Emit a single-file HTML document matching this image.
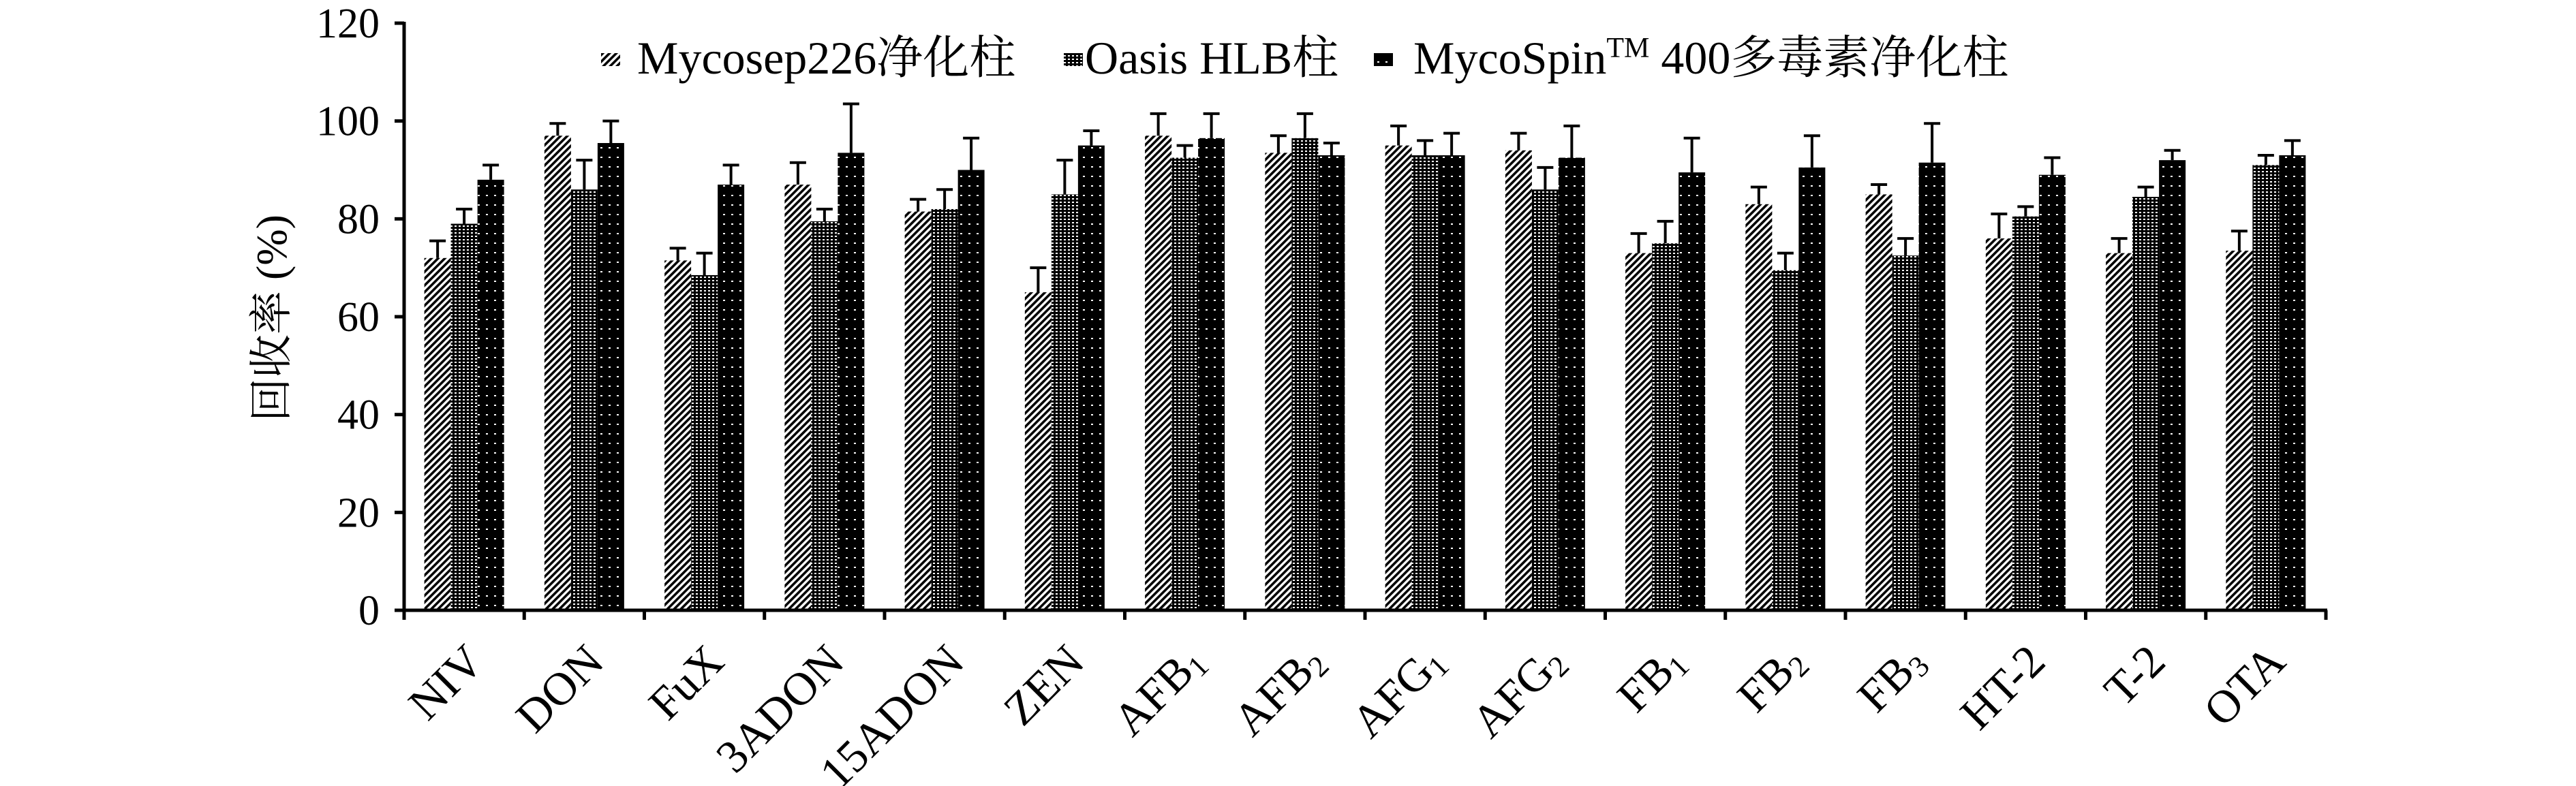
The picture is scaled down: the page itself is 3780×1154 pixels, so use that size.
<!DOCTYPE html>
<html><head><meta charset="utf-8">
<style>
html,body{margin:0;padding:0;background:#fff;}
svg{display:block;}
text{font-family:"Liberation Serif",serif;fill:#000;}
.lat{font-family:"Liberation Serif",serif;}
.cjk{font-family:"Noto Serif CJK SC","Noto Sans CJK SC",serif;}
</style></head>
<body>
<svg id="chart" width="3780" height="1154" viewBox="0 0 3780 1154" xmlns="http://www.w3.org/2000/svg">
<defs>
  <pattern id="pHatch" patternUnits="userSpaceOnUse" width="7" height="7" patternTransform="rotate(45)">
    <rect width="7" height="7" fill="#fff"/>
    <rect width="3.6" height="7" fill="#000"/>
  </pattern>
  <pattern id="pGrid" patternUnits="userSpaceOnUse" width="6" height="5">
    <rect width="6" height="5" fill="#000"/>
    <rect x="1" y="1" width="3" height="2" fill="#fff"/>
  </pattern>
  <pattern id="pDots" patternUnits="userSpaceOnUse" width="12" height="14">
    <rect width="12" height="14" fill="#000"/>
    <rect x="5" y="6" width="3" height="2" fill="#fff"/>
  </pattern>
</defs>
<g id="plot"></g>
<g id="legend">
  <rect x="882" y="78" width="28" height="19" fill="url(#pHatch)"/>
  <text x="935" y="108" font-size="68"><tspan class="lat">Mycosep226</tspan><tspan class="cjk">净化柱</tspan></text>
  <rect x="1561" y="78" width="28" height="19" fill="url(#pGrid)"/>
  <text x="1592" y="108" font-size="68"><tspan class="lat">Oasis HLB</tspan><tspan class="cjk">柱</tspan></text>
  <rect x="2016" y="78" width="28" height="19" fill="url(#pDots)"/>
  <text x="2074" y="108" font-size="68"><tspan class="lat">MycoSpin</tspan><tspan class="lat" font-size="42" dy="-24">TM</tspan><tspan class="lat" dy="24"> 400</tspan><tspan class="cjk">多毒素净化柱</tspan></text>
</g>
<text x="0" y="0" font-size="64" text-anchor="middle" transform="translate(420,467) rotate(-90)"><tspan class="cjk">回收率</tspan><tspan class="lat"> (%)</tspan></text>
</svg>
<script>
const categories = ["NIV","DON","FuX","3ADON","15ADON","ZEN","AFB|1","AFB|2","AFG|1","AFG|2","FB|1","FB|2","FB|3","HT-2","T-2","OTA"];
const seriesNames = ["Mycosep226","Oasis HLB","MycoSpin 400"];
const mycosepValues = [72,97,71.5,87,81.5,65,97,93.5,95,94,73,83,85,76,73,73.5];
const mycosepErrors = [3.5,2.5,2.5,4.5,2.5,5,4.5,3.5,4,3.5,4,3.5,2,5,3,4];
const oasisValues = [79,86,68.5,79.5,82,85,92.5,96.5,93,86,75,69.5,72.5,80.5,84.5,91];
const oasisErrors = [3,6,4.5,2.5,4,7,2.5,5,3,4.5,4.5,3.5,3.5,2,2,2];
const mycospinValues = [88,95.5,87,93.5,90,95,96.5,93,93,92.5,89.5,90.5,91.5,89,92,93];
const mycospinErrors = [3,4.5,4,10,6.5,3,5,2.5,4.5,6.5,7,6.5,8,3.5,2,3];
const yTicks = [0,20,40,60,80,100,120];

const NS = "http://www.w3.org/2000/svg";
const plot = document.getElementById("plot");
const X0 = 593, X1 = 3413, Y0 = 896, Y120 = 34;
const step = (X1 - X0) / categories.length;
const BW = 39;
function yScale(v){ return Y0 - (v / 120) * (Y0 - Y120); }
function xCenter(i){ return X0 + step * (i + 0.5); }
function mk(tag, attrs){ const e = document.createElementNS(NS, tag); for (const k in attrs) e.setAttribute(k, attrs[k]); return e; }

const series = [
  {vals: mycosepValues, errs: mycosepErrors, fill: "url(#pHatch)", key: "mycosep"},
  {vals: oasisValues, errs: oasisErrors, fill: "url(#pGrid)", key: "oasis"},
  {vals: mycospinValues, errs: mycospinErrors, fill: "url(#pDots)", key: "mycospin"}
];

categories.forEach((c, i) => {
  series.forEach((s, k) => {
    const x = xCenter(i) + (k - 1.5) * BW;
    const y = yScale(s.vals[i]);
    const r = mk("rect", {x: x, y: y, width: BW, height: Y0 - y, fill: s.fill});
    
    
    plot.appendChild(r);
    const cx = x + BW / 2, ye = yScale(s.vals[i] + s.errs[i]);
    const eb = mk("path", {d: `M${cx},${y} V${ye} M${cx-12},${ye} H${cx+12}`, stroke: "#000", "stroke-width": 4, fill: "none"});
    
    
    plot.appendChild(eb);
  });
  const parts = c.split("|");
  const t = mk("text", {x: 0, y: 0, "font-size": 68, "text-anchor": "end", transform: `translate(${xCenter(i)+32},${975}) rotate(-45)`});
  t.textContent = parts[0];
  if (parts[1]) {
    const sub = mk("tspan", {"font-size": 44, dy: 8});
    sub.textContent = parts[1];
    t.appendChild(sub);
  }
  
  
  plot.appendChild(t);
});

const yAxis = mk("line", {x1: X0, y1: Y120 - 2, x2: X0, y2: Y0 + 3, stroke: "#000", "stroke-width": 5});


plot.appendChild(yAxis);
const xAxis = mk("line", {x1: X0 - 14, y1: Y0, x2: X1 + 2, y2: Y0, stroke: "#000", "stroke-width": 5});


plot.appendChild(xAxis);
for (let i = 0; i <= categories.length; i++) {
  const x = X0 + step * i;
  const tk = mk("line", {x1: x, y1: Y0, x2: x, y2: Y0 + 14, stroke: "#000", "stroke-width": 5});
  
  
  plot.appendChild(tk);
}
yTicks.forEach(v => {
  const y = yScale(v);
  const tk = mk("line", {x1: X0 - 14, y1: y, x2: X0, y2: y, stroke: "#000", "stroke-width": 5});
  
  
  plot.appendChild(tk);
  const lb = mk("text", {x: 557, y: y + 21, "font-size": 62, "text-anchor": "end"});
  lb.textContent = v;
  
  
  plot.appendChild(lb);
});
</script>
</body></html>
